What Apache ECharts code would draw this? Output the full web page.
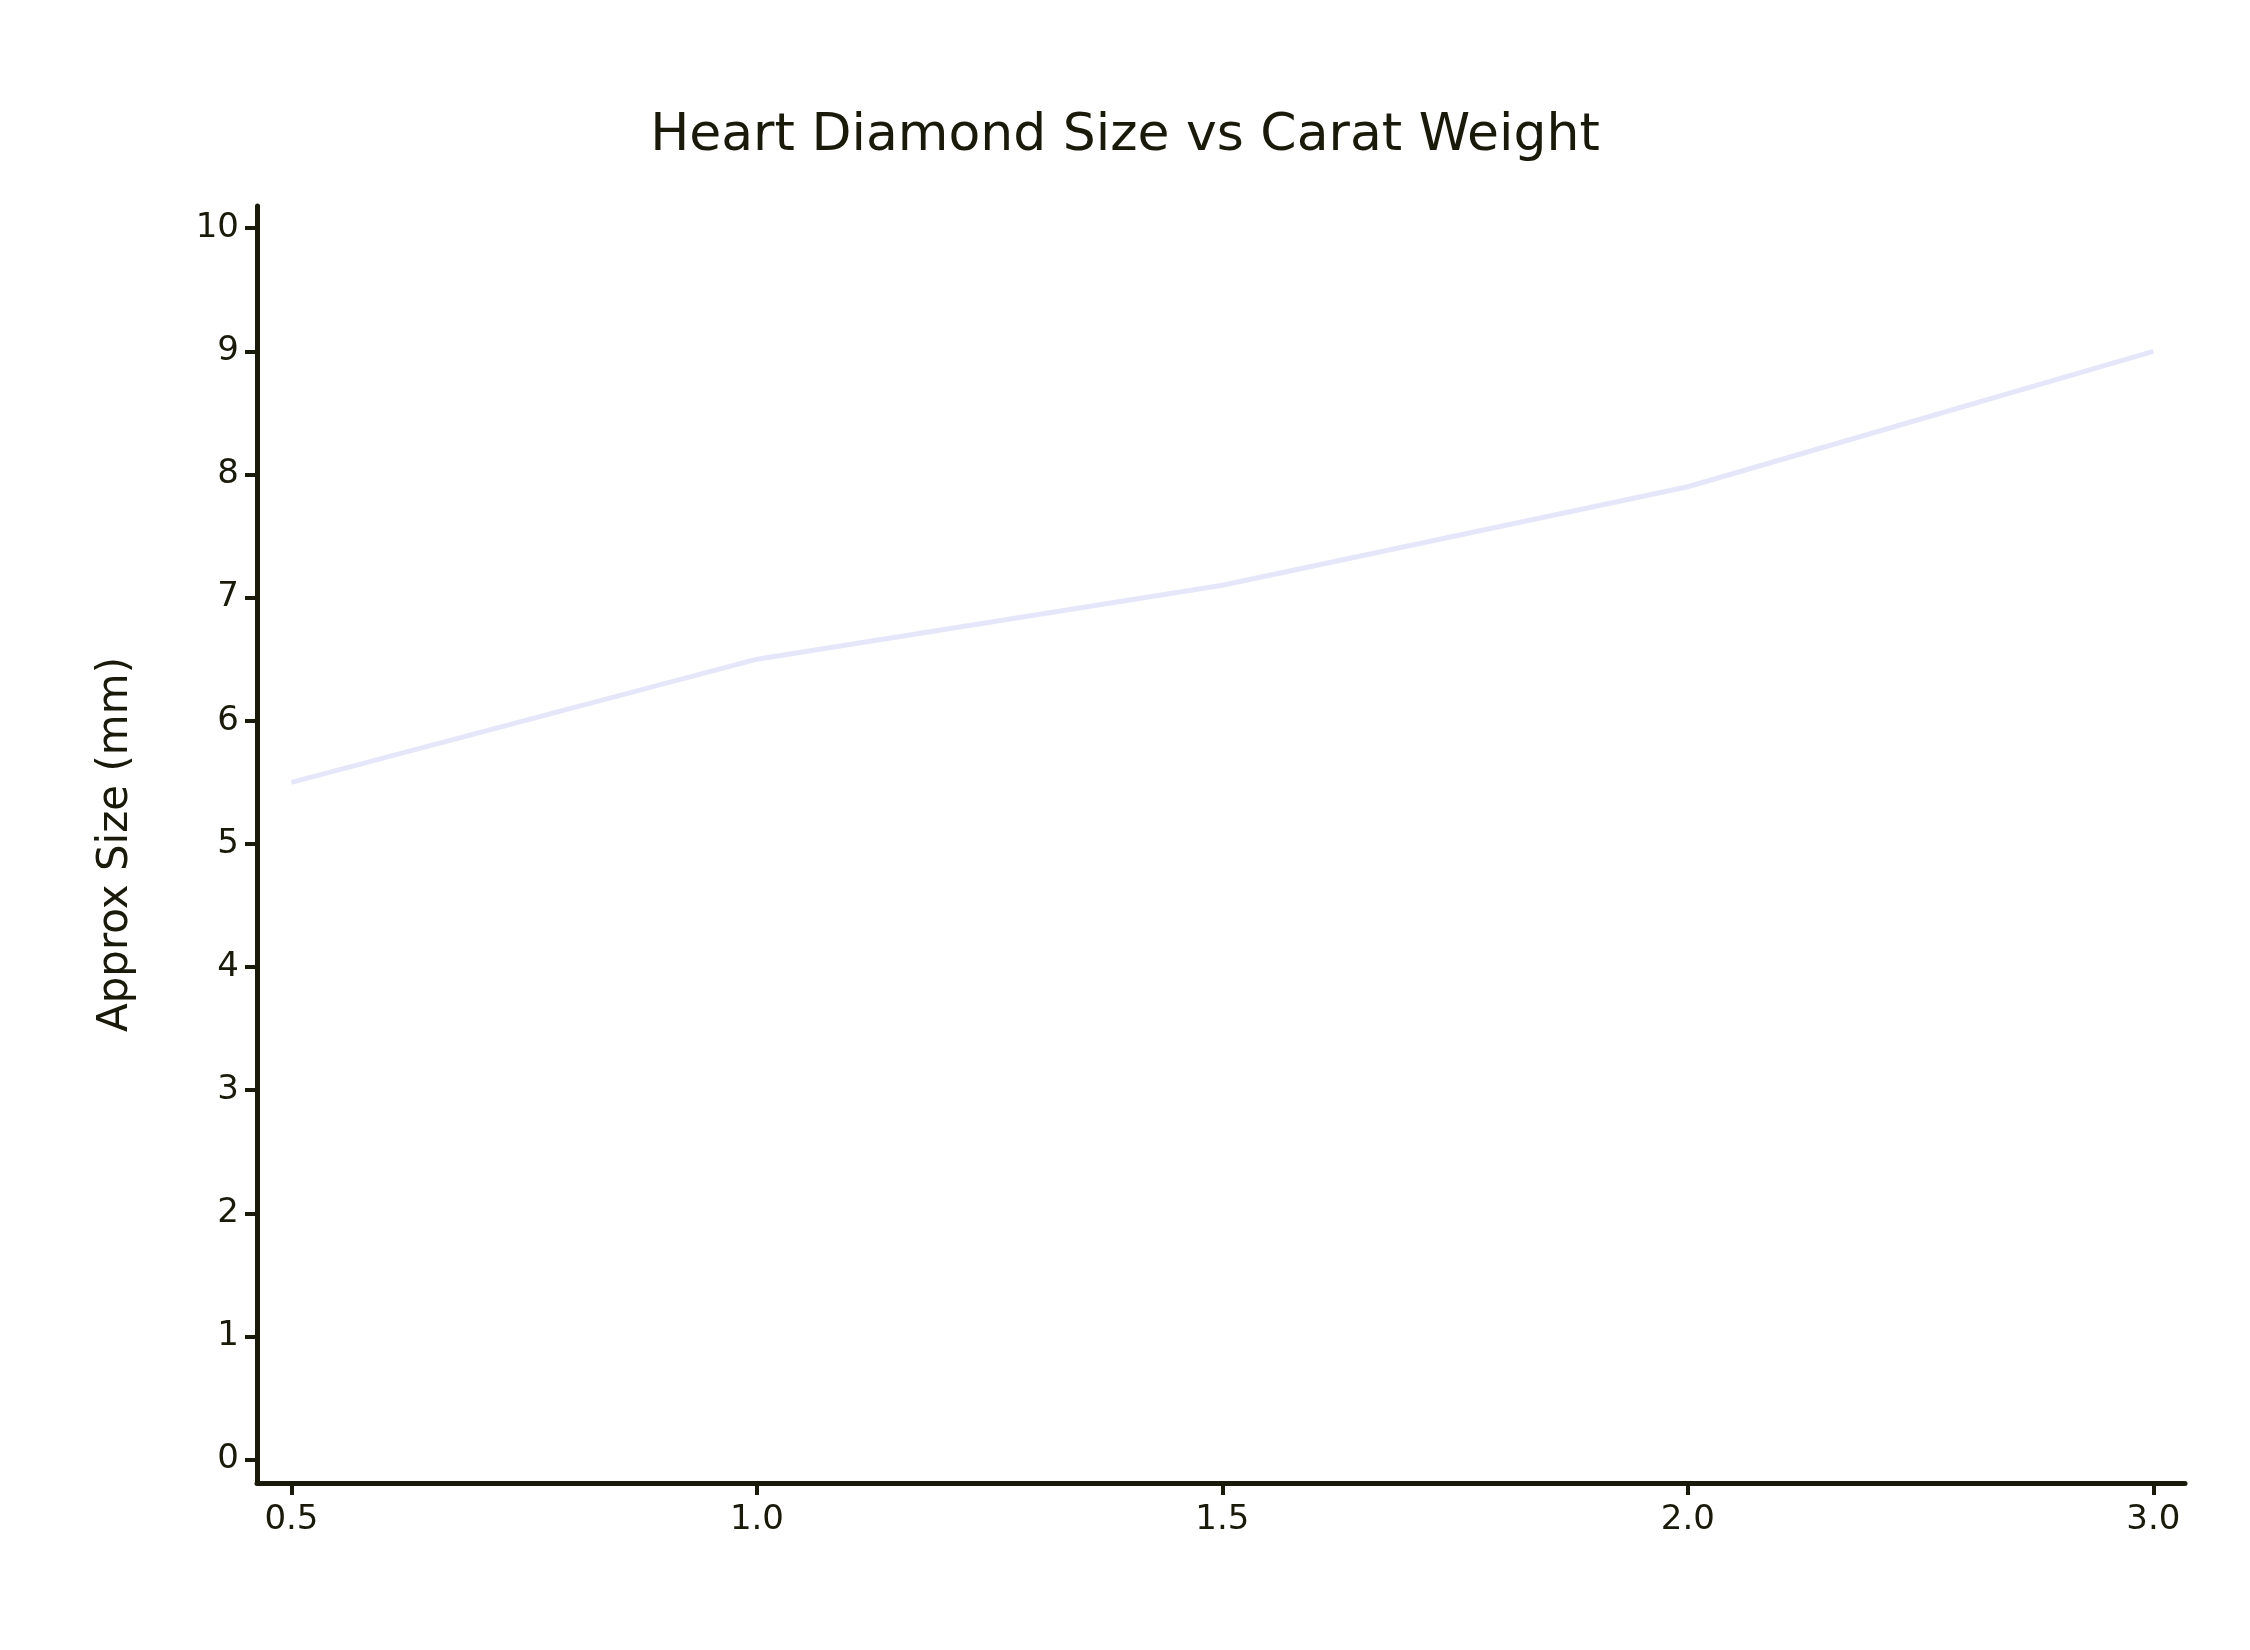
<!DOCTYPE html>
<html><head><meta charset="utf-8">
<script src="https://cdn.jsdelivr.net/npm/echarts@6/dist/echarts.min.js"></script>
<style>html,body{margin:0;padding:0;background:#fff}#c{width:2250px;height:1650px}</style>
</head><body><div id="c"></div>
<script>
const categories = ['0.5', '1.0', '1.5', '2.0', '3.0'];
const sizes = [5.5, 6.5, 7.1, 7.9, 9.0];
const yTicks = [0,1,2,3,4,5,6,7,8,9,10];
const ink = '#1a1a0a';
const font = 'DejaVu Sans';
const chart = echarts.init(document.getElementById('c'));
chart.setOption({
  backgroundColor: '#fff',
  animation: false,
  title: { text: 'Heart Diamond Size vs Carat Weight', left: 'center', top: 105,
    textStyle: { fontFamily: font, fontSize: 52, fontWeight: 'normal', color: ink } },
  grid: { left: 257, right: 65, top: 206, bottom: 167 },
  xAxis: {
    type: 'value', min: -0.074, max: 4.068,
    splitLine: { show: false },
    axisLine: { show: true, onZero: false, lineStyle: { color: ink, width: 5 } },
    axisTick: { show: true, length: 12, lineStyle: { color: ink, width: 4 }, customValues: [0,1,2,3,4] },
    axisLabel: { customValues: [0,1,2,3,4], formatter: v => categories[Math.round(v)],
      fontFamily: font, fontSize: 34, color: ink, margin: 20 }
  },
  yAxis: {
    type: 'value', min: -0.19, max: 10.18,
    name: 'Approx Size (mm)', nameLocation: 'middle', nameGap: 120,
    nameTextStyle: { fontFamily: font, fontSize: 42, color: ink },
    splitLine: { show: false },
    axisLine: { show: true, onZero: false, lineStyle: { color: ink, width: 5 } },
    axisTick: { show: true, length: 12, lineStyle: { color: ink, width: 4 }, customValues: yTicks },
    axisLabel: { customValues: yTicks, fontFamily: font, fontSize: 34, color: ink, margin: 18 }
  },
  series: [{
    type: 'line', data: sizes.map((v, i) => [i, v]), showSymbol: false,
    lineStyle: { color: '#e6e6fa', width: 5 }
  }]
});
</script></body></html>
